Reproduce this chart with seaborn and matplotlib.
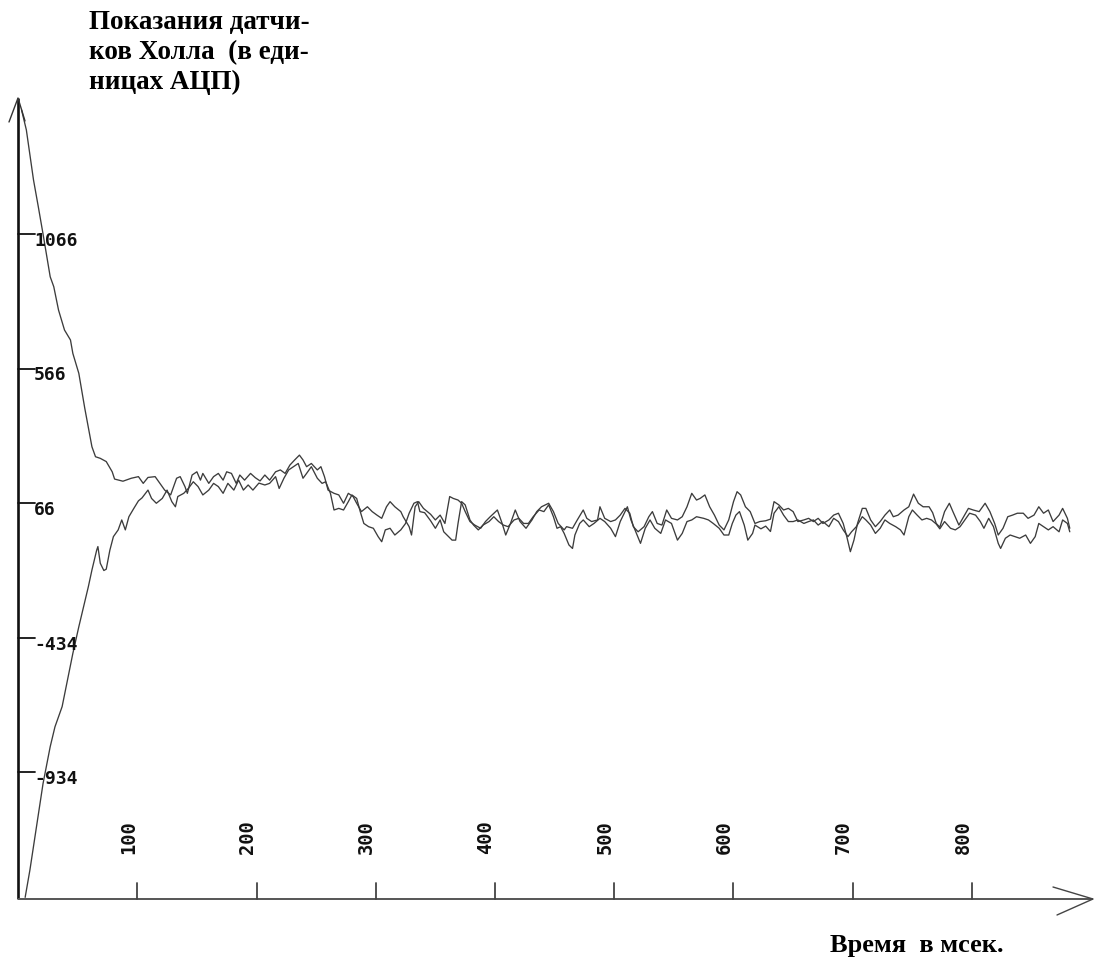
import matplotlib
matplotlib.use("Agg")
import matplotlib.pyplot as plt
import pandas as pd
import seaborn as sns

# Hall sensor A: starts high and settles (time in ms, reading in ADC units)
time_a = [3, 7, 13, 17, 21, 27, 30, 34, 39, 44, 46, 51, 56, 62, 65, 69, 74, 79, 81, 88,
          95, 101, 105, 109, 115, 119, 123, 128, 133, 136, 140, 142, 146, 150, 153, 155, 160, 164, 168, 172,
          175, 179, 183, 186, 190, 195, 199, 203, 207, 211, 216, 220, 224, 228, 232, 236, 239, 242, 246, 251,
          254, 257, 260, 265, 269, 273, 277, 281, 284, 288, 293, 297, 301, 305, 309, 312, 316, 321, 323, 328,
          330, 333, 336, 340, 346, 350, 354, 358, 362, 365, 369, 372, 375, 379, 383, 388, 392, 396, 402, 406,
          409, 413, 417, 421, 426, 431, 435, 439, 445, 449, 453, 458, 460, 465, 469, 474, 477, 481, 486, 488,
          492, 497, 501, 505, 509, 513, 516, 520, 525, 529, 532, 536, 540, 544, 548, 553, 557, 561, 565, 569,
          572, 576, 580, 584, 588, 592, 596, 600, 603, 606, 610, 614, 618, 622, 627, 631, 634, 638, 642, 646,
          650, 654, 659, 663, 667, 671, 675, 680, 684, 688, 692, 695, 698, 701, 704, 708, 711, 715, 719, 723,
          727, 731, 734, 738, 743, 747, 751, 755, 759, 764, 767, 770, 773, 777, 781, 784, 789, 793, 797, 801,
          806, 811, 815, 819, 822, 826, 830, 834, 838, 843, 847, 852, 856, 860, 864, 868, 873, 876, 880, 882]
hall_a = [1527, 1453, 1267, 1168, 1066, 907, 870, 783, 709, 672, 622, 548, 418, 275, 238, 232, 220, 182, 155, 147,
          158, 164, 139, 161, 164, 139, 114, 96, 158, 164, 127, 102, 170, 182, 151, 176, 139, 164, 176, 151,
          182, 176, 139, 170, 151, 176, 160, 148, 170, 151, 182, 189, 176, 207, 226, 244, 226, 201, 213, 189,
          201, 164, 114, 102, 96, 65, 102, 90, 65, 34, 52, 34, 21, 9, 52, 71, 52, 34, 15, -22,
          -53, 52, 71, 46, 24, 3, 21, -10, 90, 83, 77, 65, 34, -3, -16, -28, -3, 15, 40, -10,
          -53, -10, 40, -3, -28, 3, 34, 52, 65, 34, -10, -34, -22, -28, 3, 40, 9, -3, 3, 52,
          9, -3, 3, 21, 46, 28, -22, -41, -22, 15, 34, -10, -16, 40, 9, 3, 15, 52, 102, 77,
          83, 96, 52, 21, -16, -34, 3, 71, 108, 96, 52, 34, -10, -3, 0, 6, 71, 59, 40, 46,
          34, -3, 3, 9, -3, 9, -10, 3, 21, 28, -10, -59, -115, -72, -10, 46, 46, 3, -22, -3,
          21, 40, 15, 21, 40, 52, 99, 65, 52, 52, 30, -10, -24, 34, 65, 34, -16, 15, 46, 40,
          34, 65, 34, -10, -53, -28, 15, 21, 28, 28, 9, 21, 52, 28, 40, -3, 21, 46, 9, -28]

# Hall sensor B: starts low and rises to the same level
time_b = [6, 10, 21, 27, 31, 37, 42, 46, 51, 55, 59, 62, 66, 67, 69, 72, 74, 77, 80, 84,
          87, 90, 93, 97, 101, 104, 107, 109, 112, 116, 121, 125, 129, 132, 134, 139, 143, 147, 151, 155,
          160, 164, 168, 172, 176, 181, 185, 189, 193, 197, 202, 207, 211, 216, 219, 223, 227, 231, 235, 239,
          242, 246, 251, 255, 258, 262, 265, 269, 273, 277, 280, 284, 287, 290, 294, 298, 302, 305, 308, 312,
          316, 321, 325, 328, 332, 335, 337, 341, 346, 350, 354, 357, 361, 364, 367, 369, 372, 375, 379, 382,
          386, 390, 395, 399, 403, 407, 411, 416, 420, 424, 428, 432, 437, 441, 445, 449, 452, 455, 458, 462,
          465, 467, 471, 474, 479, 483, 488, 492, 497, 501, 505, 511, 514, 518, 522, 526, 530, 534, 539, 543,
          548, 553, 557, 561, 565, 569, 575, 579, 583, 588, 592, 596, 599, 602, 605, 609, 612, 616, 618, 623,
          627, 631, 634, 638, 642, 646, 650, 654, 659, 663, 667, 671, 675, 680, 684, 688, 692, 696, 699, 703,
          708, 711, 715, 719, 723, 727, 731, 736, 740, 743, 747, 750, 754, 758, 762, 766, 770, 773, 777, 782,
          786, 790, 794, 798, 803, 807, 810, 814, 818, 822, 824, 828, 832, 836, 840, 845, 849, 853, 856, 860,
          864, 868, 873, 876, 880, 882]
hall_b = [-1400, -1298, -977, -840, -766, -691, -580, -493, -394, -320, -245, -183, -109, -96, -158, -185, -180, -110, -59, -34,
          3, -34, 15, 45, 74, 85, 102, 114, 83, 65, 83, 114, 71, 52, 90, 102, 121, 145, 127, 96,
          114, 139, 127, 102, 139, 114, 151, 114, 133, 114, 140, 133, 139, 164, 120, 158, 189, 201, 213, 158,
          176, 201, 158, 139, 145, 102, 40, 46, 40, 71, 96, 83, 34, -10, -22, -28, -59, -78, -34, -28,
          -53, -34, -10, 28, 65, 71, 34, 30, 0, -28, 3, -41, -59, -72, -72, -10, 71, 59, 3, -16,
          -34, -16, -3, 15, -3, -16, -22, 3, 9, -10, -10, 15, 40, 34, 59, 15, -28, -22, -47, -90,
          -103, -53, -10, 3, -22, -10, 9, -3, -28, -59, -3, 52, 3, -41, -84, -28, 3, -28, -47, 3,
          -10, -72, -47, -3, 3, 15, 9, 3, -10, -28, -53, -53, -10, 21, 34, -16, -72, -47, -16, -30,
          -20, -40, 28, 52, 21, -3, -3, 3, -10, -3, 3, -16, -3, -22, 9, -3, -34, -59, -41, -22,
          15, 3, -16, -47, -28, 3, -10, -22, -34, -53, 15, 40, 21, 3, 9, 3, -12, -30, -3, -28,
          -34, -22, 3, 28, 21, -3, -28, 9, -22, -84, -103, -65, -53, -59, -65, -53, -84, -59, -10, -22,
          -34, -22, -41, 3, -10, -41]

y_ticks = [1066, 566, 66, -434, -934]
x_ticks = [100, 200, 300, 400, 500, 600, 700, 800]
y_title_lines = ["Показания датчи-", "ков Холла  (в еди-", "ницах АЦП)"]
x_title = "Время  в мсек."

W, H = 1095, 960
sns.set_style("white")
fig = plt.figure(figsize=(W / 100, H / 100), dpi=100)
ax = fig.add_axes([0, 0, 1, 1])

# data <-> pixel scale of the plotting area (origin of the ms axis at px 18,
# 66 units at px 503; 1.1925 px per ms, 0.269 px per ADC unit)
X0_PX, MS_PX = 18.0, 1.1925
V0, V0_PX, V_PX = 66.0, 503.0, 0.269


def px(xp, yp):
    return (xp - X0_PX) / MS_PX, V0 + (V0_PX - yp) / V_PX


xmin, ymax = px(0, 0)
xmax, ymin = px(W, H)
ax.set_xlim(xmin, xmax)
ax.set_ylim(ymin, ymax)
ax.axis("off")

df_a = pd.DataFrame({"t": time_a, "v": hall_a})
df_b = pd.DataFrame({"t": time_b, "v": hall_b})
line_kw = dict(color="#3c3c3c", linewidth=0.95, estimator=None, sort=False, legend=False)
sns.lineplot(data=df_a, x="t", y="v", ax=ax, **line_kw)
sns.lineplot(data=df_b, x="t", y="v", ax=ax, **line_kw)

# axes drawn as arrows
x_left, y_base = px(18, 899)
_, y_top = px(18, 98)
x_tip, _ = px(1093, 899)
ax.plot([x_left, x_left], [y_base, y_top], color="#111111", lw=1.9, solid_capstyle="butt")
ax.plot([x_left, x_tip], [y_base, y_base], color="#555555", lw=1.4, solid_capstyle="butt")
ax.plot(*zip(px(9, 122), px(18, 98), px(25, 121)), color="#333333", lw=1.0)
ax.plot(*zip(px(1053, 887), px(1093, 899), px(1057, 915)), color="#444444", lw=1.0)

mono = "DejaVu Sans Mono"

# y ticks with labels to the right
tick_end, _ = px(35, 0)
for v in y_ticks:
    ax.plot([x_left, tick_end], [v, v], color="#111111", lw=1.3)
    ax.annotate(str(v), xy=(tick_end, v), xytext=(-1, -7), textcoords="offset pixels",
                ha="left", va="center", fontsize=13, fontweight="bold",
                family=mono, color="#111111")

# x ticks with rotated labels
_, tick_top = px(0, 883)
for t in x_ticks:
    ax.plot([t, t], [y_base, tick_top], color="#444444", lw=1.3)
    ax.annotate(str(t), xy=(t, y_base), xytext=(-9, 62), textcoords="offset pixels",
                ha="center", va="center", rotation=90, fontsize=13.5, fontweight="bold",
                family=mono, color="#111111")

serif = ["Liberation Serif", "DejaVu Serif"]
for i, line in enumerate(y_title_lines):
    fig.text(89 / W, 1 - (29 + 30 * i) / H, line, ha="left", va="baseline",
             fontsize=19.5, fontweight="bold", family=serif, color="black")
fig.text(917 / W, 1 - 952 / H, x_title, ha="center", va="baseline",
         fontsize=19, fontweight="bold", family=serif, color="black")

fig.savefig("out.png", dpi=100, facecolor="white")
